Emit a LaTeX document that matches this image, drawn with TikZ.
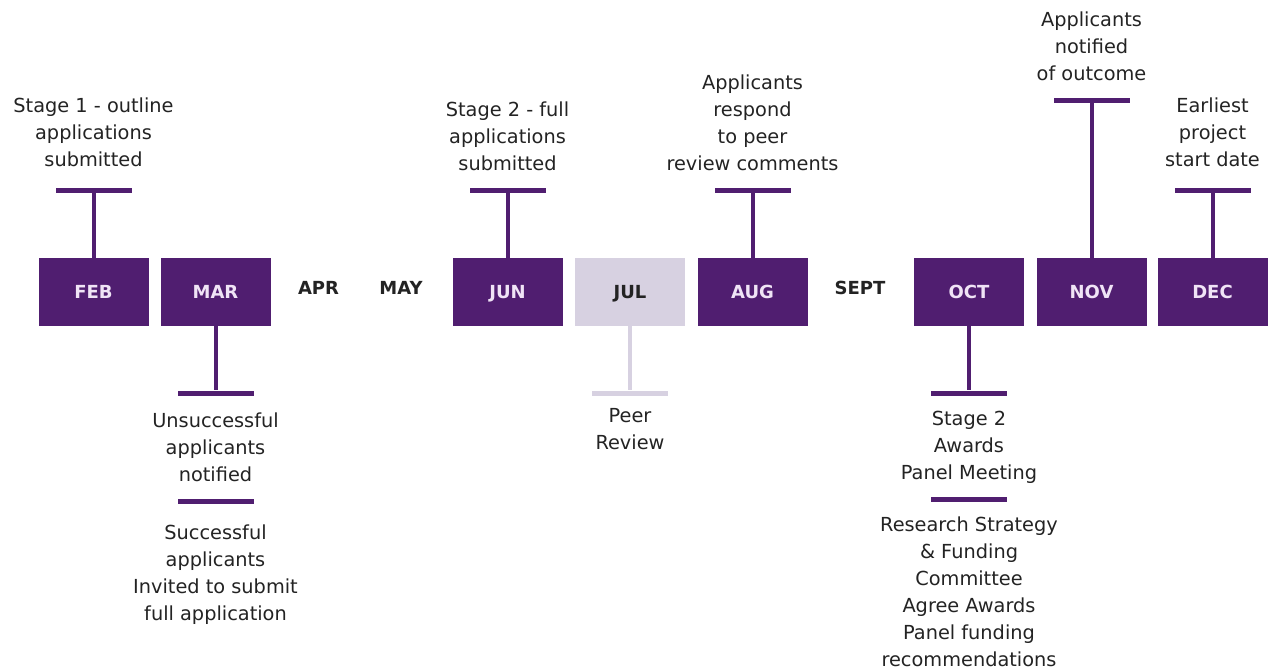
\documentclass[tikz,border=0pt]{standalone}
\usepackage{fontspec}
\setmainfont{DejaVu Sans}
\usetikzlibrary{positioning}
\definecolor{plum}{RGB}{80,30,112}
\definecolor{lilac}{RGB}{215,209,225}
\definecolor{pale}{RGB}{240,228,246}
\definecolor{ink}{RGB}{35,35,35}
\tikzstyle{month} = [rectangle, minimum width=82.5pt, minimum height=51pt, inner sep=0pt, text height=10pt, text depth=0pt, fill=plum, text=pale, font=\fontsize{13.5}{16}\selectfont\bfseries]
\tikzstyle{quiet} = [month, fill=lilac, text=ink]
\tikzstyle{bare} = [inner sep=0pt, text=ink, font=\fontsize{13.5}{16}\selectfont\bfseries]
\tikzstyle{tee} = [rectangle, minimum width=57pt, minimum height=3.75pt, inner sep=0pt, fill=plum]
\tikzstyle{note} = [align=center, inner sep=0pt, text=ink, font=\fontsize{14.5}{20.25}\selectfont]
\tikzstyle{stem} = [line width=3pt, plum]

\begin{document}
\begin{tikzpicture}[x=0.75pt,y=-0.75pt]
\useasboundingbox (0,0) rectangle (1273,671);

\node (feb) [month] at (93.5,292) {FEB};
\node (mar) [month] at (215.5,292) {MAR};
\node (apr) [bare] at (318.5,288) {APR};
\node (may) [bare] at (401,288) {MAY};
\node (jun) [month] at (507.5,292) {JUN};
\node (jul) [quiet] at (630,292) {JUL};
\node (aug) [month] at (752.5,292) {AUG};
\node (sept) [bare] at (860,288) {SEPT};
\node (oct) [month] at (969,292) {OCT};
\node (nov) [month] at (1091.5,292) {NOV};
\node (dec) [month] at (1212.5,292) {DEC};
%
\node (febtee) [tee] at (93.5,190) {};
	\node (febnote) [note, above=15pt of febtee] {Stage 1 - outline\\applications\\submitted};
\node (martee) [tee] at (215.5,393) {};
	\node (marnote) [note, below=12.5pt of martee] {Unsuccessful\\applicants\\notified};
	\node (martee2) [tee, below=12.5pt of marnote] {};
	\node (marnote2) [note, below=15pt of martee2] {Successful\\applicants\\Invited to submit\\full application};
\node (juntee) [tee] at (507.5,190) {};
	\node (junnote) [note, above=12pt of juntee] {Stage 2 - full\\applications\\submitted};
\node (jultee) [tee, fill=lilac] at (630,393) {};
	\node (julnote) [note, below=9.5pt of jultee] {Peer\\Review};
\node (augtee) [tee] at (752.5,190) {};
	\node (augnote) [note, above=12pt of augtee] {Applicants\\respond\\to peer\\review comments};
\node (octtee) [tee] at (969,393) {};
	\node (octnote) [note, below=11pt of octtee] {Stage 2\\Awards\\Panel Meeting};
	\node (octtee2) [tee, below=10pt of octnote] {};
	\node (octnote2) [note, below=11pt of octtee2] {Research Strategy\\\& Funding\\Committee\\Agree Awards\\Panel funding\\recommendations};
\node (novtee) [tee] at (1091.5,100) {};
	\node (novnote) [note, above=12pt of novtee] {Applicants\\notified\\of outcome};
\node (dectee) [tee] at (1212.5,190) {};
	\node (decnote) [note, above=15pt of dectee] {Earliest\\project\\start date};
%
\draw [stem] (feb) -- (febtee);
\draw [stem] (mar) -- (martee);
\draw [stem] (jun) -- (juntee);
\draw [stem, lilac] (jul) -- (jultee);
\draw [stem] (aug) -- (augtee);
\draw [stem] (oct) -- (octtee);
\draw [stem] (nov) -- (novtee);
\draw [stem] (dec) -- (dectee);
\end{tikzpicture}
\end{document}
